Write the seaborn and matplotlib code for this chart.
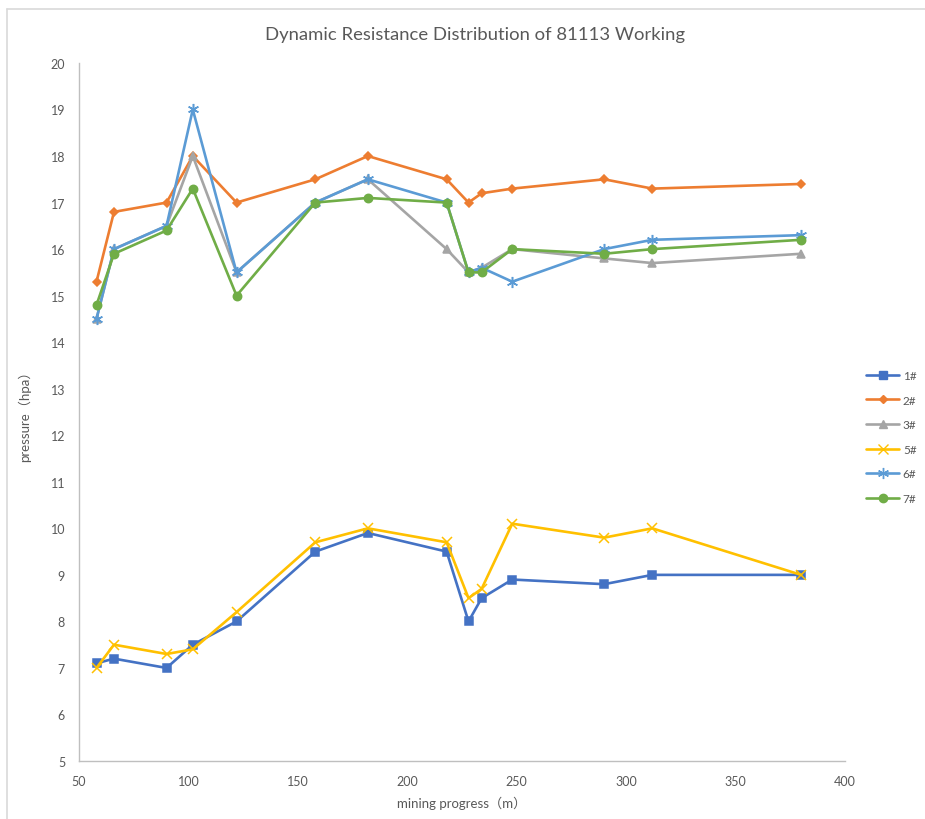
import matplotlib
matplotlib.use("Agg")
import matplotlib.pyplot as plt
from matplotlib.lines import Line2D
import seaborn as sns
import pandas as pd

# mining progress (m) at each survey point
progress = [58, 66, 90, 102, 122, 158, 182, 218, 228, 234, 248, 290, 312, 380]

# pressure readings (hpa) per support
p1 = [7.1, 7.2, 7.0, 7.5, 8.0, 9.5, 9.9, 9.5, 8.0, 8.5, 8.9, 8.8, 9.0, 9.0]
p2 = [15.3, 16.8, 17.0, 18.0, 17.0, 17.5, 18.0, 17.5, 17.0, 17.2, 17.3, 17.5, 17.3, 17.4]
p3 = [14.5, 16.0, 16.5, 18.0, 15.5, 17.0, 17.5, 16.0, 15.5, 15.6, 16.0, 15.8, 15.7, 15.9]
p5 = [7.0, 7.5, 7.3, 7.4, 8.2, 9.7, 10.0, 9.7, 8.5, 8.7, 10.1, 9.8, 10.0, 9.0]
p6 = [14.5, 16.0, 16.5, 19.0, 15.5, 17.0, 17.5, 17.0, 15.5, 15.6, 15.3, 16.0, 16.2, 16.3]
p7 = [14.8, 15.9, 16.4, 17.3, 15.0, 17.0, 17.1, 17.0, 15.5, 15.5, 16.0, 15.9, 16.0, 16.2]

series_names = ["1#", "2#", "3#", "5#", "6#", "7#"]
series_values = [p1, p2, p3, p5, p6, p7]

x_ticks = [50, 100, 150, 200, 250, 300, 350, 400]
y_ticks = list(range(5, 21))

title = "Dynamic Resistance Distribution of 81113 Working"
x_label = "mining progress（m）"
y_label = "pressure（hpa）"

rows = []
for name, vals in zip(series_names, series_values):
    for x, y in zip(progress, vals):
        rows.append({"progress": x, "pressure": y, "support": name})
df = pd.DataFrame(rows)

colors = {"1#": "#4472C4", "2#": "#ED7D31", "3#": "#A5A5A5",
          "5#": "#FFC000", "6#": "#5B9BD5", "7#": "#70AD47"}
markers = {"1#": "s", "2#": "D", "3#": "^", "5#": "x", "6#": (6, 2, 0), "7#": "o"}
msizes = {"1#": 5.5, "2#": 4.2, "3#": 5.5, "5#": 7, "6#": 8, "7#": 6}

sns.set_theme(style="white")
plt.rcParams["font.family"] = ["Lato", "Noto Sans CJK SC", "DejaVu Sans"]

fig = plt.figure(figsize=(9.25, 8.2), dpi=100)
ax = fig.add_axes([0.0854, 0.0707, 0.828, 0.8513])

for name in series_names:
    sub = df[df["support"] == name]
    sns.lineplot(data=sub, x="progress", y="pressure", color=colors[name],
                 marker=markers[name], markersize=msizes[name],
                 markeredgecolor=colors[name], markerfacecolor=colors[name],
                 markeredgewidth=1.1, linewidth=1.9, sort=False, ax=ax)

ax.set_xlim(50, 400)
ax.set_ylim(5, 20)
ax.set_xticks(x_ticks)
ax.set_yticks(y_ticks)
ax.tick_params(axis="both", length=0, labelsize=9, colors="#595959", pad=10)
ax.set_xlabel(x_label, fontsize=9.5, color="#595959", labelpad=6)
ax.set_ylabel(y_label, fontsize=9.5, color="#595959", labelpad=14)
ax.set_title(title, fontsize=13.3, color="#595959", pad=17, x=0.517)

for side in ["top", "right"]:
    ax.spines[side].set_visible(False)
for side in ["left", "bottom"]:
    ax.spines[side].set_color("#BFBFBF")
    ax.spines[side].set_linewidth(1)

handles = [Line2D([0], [0], color=colors[n], lw=1.9, marker=markers[n],
                  markersize=msizes[n], markeredgecolor=colors[n],
                  markerfacecolor=colors[n]) for n in series_names]
leg = fig.legend(handles, series_names, loc="center left",
                 bbox_to_anchor=(0.925, 0.466), frameon=False,
                 fontsize=8.5, labelcolor="#595959", handlelength=2.8,
                 handletextpad=0.3, labelspacing=1.15)

# chart area border
fig.add_artist(Line2D([0.008, 1.0], [0.988, 0.988], transform=fig.transFigure,
                      color="#D9D9D9", lw=1.2))
fig.add_artist(Line2D([0.008, 0.008], [0.0, 0.988], transform=fig.transFigure,
                      color="#D9D9D9", lw=1.2))

fig.savefig("out.png", dpi=100, facecolor="white")
